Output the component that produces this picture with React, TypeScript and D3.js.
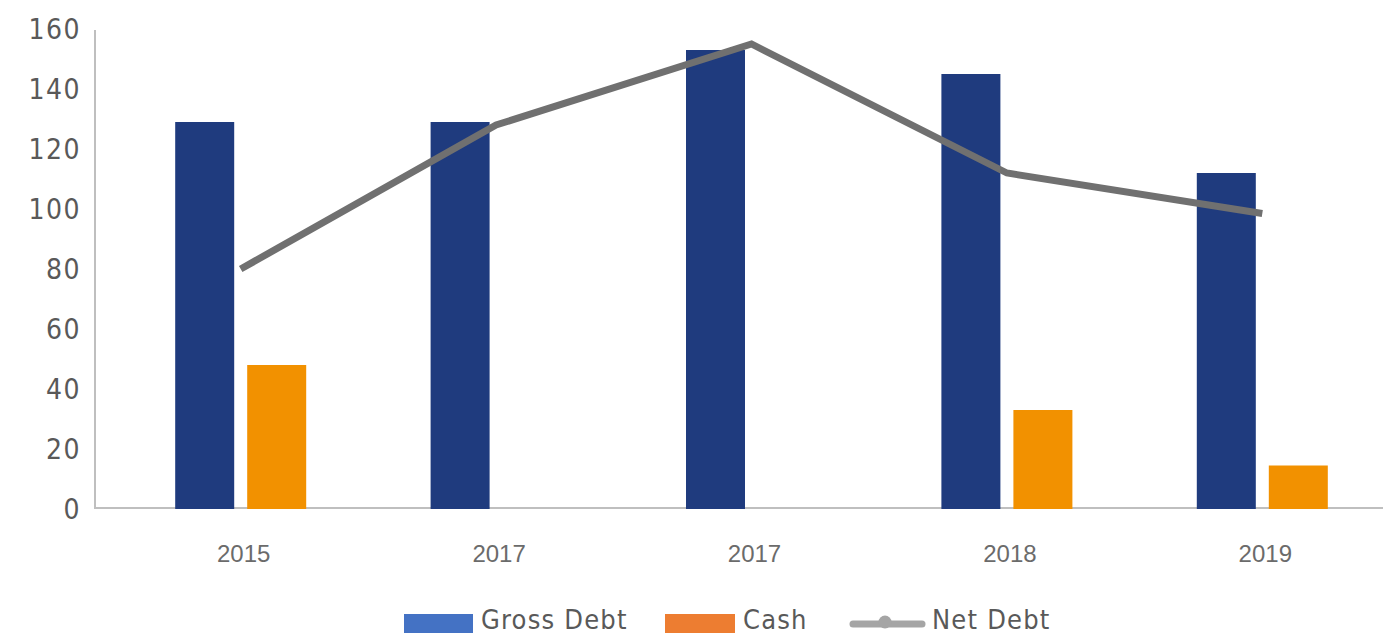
import React, { useRef, useEffect } from 'react';
import * as d3 from 'd3';

const years = ['2015', '2017', '2017', '2018', '2019'];
const grossDebt = [129, 129, 153, 145, 112];
const cash = [48, 0, 0, 33, 14.5];
const netDebt = [80, 128, 155, 112, 98.5];
const yTicks = [0, 20, 40, 60, 80, 100, 120, 140, 160];

const narrow = '"Liberation Sans Narrow", "DejaVu Sans Condensed", "Noto Sans", sans-serif';

function App() {
  const svgRef = useRef<SVGSVGElement>(null);

  useEffect(() => {
    const svg = d3.select(svgRef.current);
    svg.selectAll('*').remove();

    const width = 1386;
    const height = 636;

    const idx = years.map((_, i) => String(i));
    const x = d3.scaleBand().domain(idx).range([113, 1390]);
    const y = d3.scaleLinear().domain([0, 160]).range([509, 29]);

    const barW = 59;
    const gap = 13;
    const groupW = barW * 2 + gap;

    svg.attr('width', width).attr('height', height);

    // Axes lines
    svg.append('line')
      .attr('x1', 95).attr('x2', 95)
      .attr('y1', 30).attr('y2', y(0))
      .attr('stroke', '#bfbfbf').attr('stroke-width', 2);
    svg.append('line')
      .attr('x1', 94).attr('x2', 1383)
      .attr('y1', y(0) - 1).attr('y2', y(0) - 1)
      .attr('stroke', '#bfbfbf').attr('stroke-width', 2);

    // Y tick labels
    svg.append('g').selectAll('text')
      .data(yTicks)
      .enter()
      .append('text')
      .attr('x', 81)
      .attr('y', d => y(d) + 10)
      .attr('text-anchor', 'end')
      .style('font-family', narrow)
      .style('font-size', '28px')
      .style('letter-spacing', '1.5px')
      .style('fill', '#595959')
      .text(d => d);

    // Bars
    const g = svg.append('g');
    g.selectAll('rect.gross')
      .data(grossDebt)
      .enter()
      .append('rect')
      .attr('class', 'gross')
      .attr('x', (_, i) => x(String(i))! + x.bandwidth() / 2 - groupW / 2)
      .attr('y', d => y(d))
      .attr('width', barW)
      .attr('height', d => y(0) - y(d))
      .attr('fill', '#1f3b7e');

    g.selectAll('rect.cash')
      .data(cash)
      .enter()
      .append('rect')
      .attr('class', 'cash')
      .attr('x', (_, i) => x(String(i))! + x.bandwidth() / 2 - groupW / 2 + barW + gap)
      .attr('y', d => y(d))
      .attr('width', barW)
      .attr('height', d => y(0) - y(d))
      .attr('fill', '#f29100');

    // Net debt line
    const line = d3.line<number>()
      .x((_, i) => x(String(i))! + x.bandwidth() / 2)
      .y(d => y(d));
    svg.append('path')
      .datum(netDebt)
      .attr('d', line)
      .attr('fill', 'none')
      .attr('stroke', '#707070')
      .attr('stroke-width', 7);

    // X labels
    svg.append('g').selectAll('text')
      .data(years)
      .enter()
      .append('text')
      .attr('x', (_, i) => x(String(i))! + x.bandwidth() / 2 + 3)
      .attr('y', 562)
      .attr('text-anchor', 'middle')
      .style('font-family', '"Liberation Sans", Arial, sans-serif')
      .style('font-size', '24px')
      .style('fill', '#6b6b6b')
      .text(d => d);

    // Legend
    const leg = svg.append('g');
    const legFont = (t: d3.Selection<SVGTextElement, unknown, null, undefined>) =>
      t.style('font-family', narrow).style('font-size', '27px').style('letter-spacing', '1.2px').style('fill', '#595959');
    leg.append('rect').attr('x', 404).attr('y', 614).attr('width', 69).attr('height', 19).attr('fill', '#4472c4');
    leg.append('text').attr('x', 481).attr('y', 629).call(legFont).text('Gross Debt');
    leg.append('rect').attr('x', 665).attr('y', 614).attr('width', 70).attr('height', 19).attr('fill', '#ed7d31');
    leg.append('text').attr('x', 743).attr('y', 629).call(legFont).text('Cash');
    leg.append('line').attr('x1', 853).attr('x2', 922).attr('y1', 624).attr('y2', 624)
      .attr('stroke', '#a5a5a5').attr('stroke-width', 7).attr('stroke-linecap', 'round');
    leg.append('circle').attr('cx', 885).attr('cy', 622).attr('r', 6.5).attr('fill', '#a5a5a5');
    leg.append('text').attr('x', 932).attr('y', 629).call(legFont).text('Net Debt');
  }, []);

  return <svg ref={svgRef} style={{ position: 'absolute', left: 0, top: 0 }}></svg>;
}

export default App;
